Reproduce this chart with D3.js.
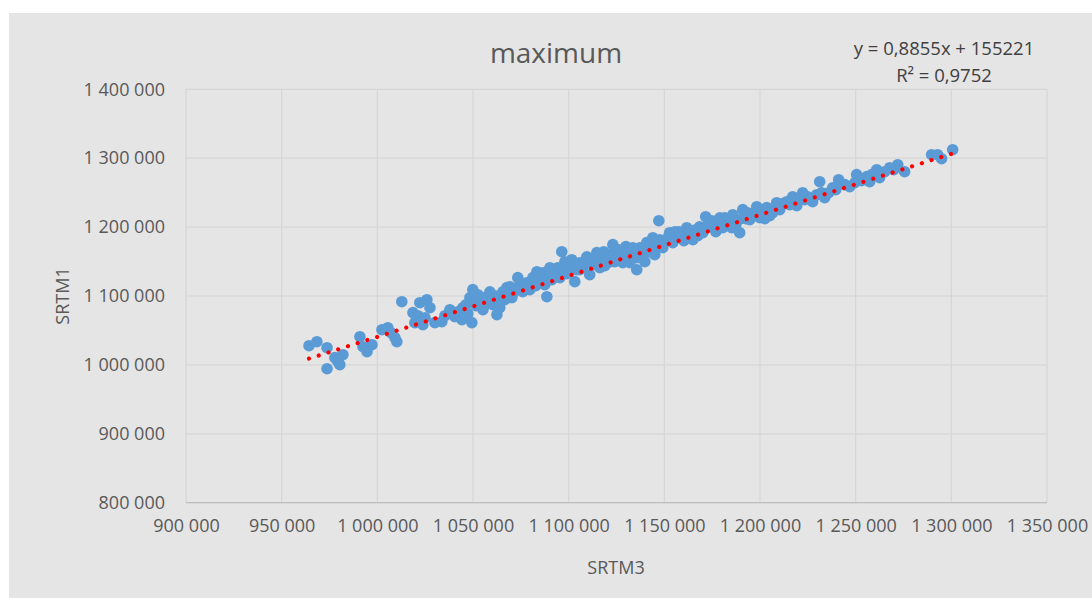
<!DOCTYPE html>
<html>
<head>
<meta charset="utf-8">
<script src="https://cdn.jsdelivr.net/npm/d3@7"></script>
<style>
  html, body { margin: 0; padding: 0; background: #ffffff; }
  svg { display: block; font-family: "Open Sans", "Noto Sans", sans-serif; }
</style>
</head>
<body>
<svg id="chart" width="1092" height="598"></svg>
<script>
// SRTM3 (x) and SRTM1 (y) maxima per sample
const srtm3 = [
  964300, 968400, 973700, 973700, 977800, 980400, 982000, 979400, 990900, 992500,
  994600, 997200, 1002400, 1005500, 1009200, 1010200, 1007100, 1012800, 1018600, 1019600,
  1022200, 1025900, 1027500, 1023800, 1030100, 1033700, 1037900, 1040500, 1044200, 1048400,
  1049400, 1024900, 1035300, 1042100, 1046300, 1021200, 1044700, 1049900, 1053600, 1057200,
  1060400, 1062500, 1065600, 1069300, 1070300, 1073400, 1076000, 1083400, 1084900, 1088600,
  1090200, 1092800, 1096400, 1100600, 1103200, 1105800, 1109500, 1111000, 1114700, 1116300,
  1119900, 1123100, 1125200, 1128300, 1133500, 1132000, 1052500, 1056200, 1058800, 1063000,
  1066600, 1068200, 1071900, 1074500, 1078100, 1079700, 1081300, 1086500, 1087500, 1091200,
  1094300, 1095400, 1098000, 1099000, 1101600, 1104300, 1107400, 1108400, 1112600, 1113700,
  1117800, 1118900, 1121500, 1124100, 1126700, 1129900, 1135600, 1055200, 1064000, 1128300,
  1132000, 1135600, 1140800, 1144000, 1147100, 1149200, 1152800, 1157000, 1161700, 1164900,
  1168500, 1171600, 1175300, 1179000, 1182600, 1185800, 1189400, 1191000, 1194600, 1198300,
  1201400, 1206600, 1208700, 1214000, 1217100, 1138200, 1142400, 1146000, 1147600, 1150800,
  1154400, 1155500, 1159100, 1160200, 1163300, 1166400, 1170100, 1173200, 1176900, 1177900,
  1180500, 1184200, 1187300, 1192500, 1196200, 1199900, 1203500, 1205100, 1210300, 1211900,
  1215500, 1139800, 1145000, 1219200, 1219700, 1222300, 1227500, 1231200, 1233800, 1238000,
  1241100, 1246900, 1250500, 1255800, 1261000, 1262500, 1267800, 1272000, 1275600, 1289700,
  1292800, 1294900, 1300700, 1224900, 1229600, 1235900, 1244300, 1253100, 1258400, 1265200,
  1269900, 1220800, 1047300, 1051500, 1054600, 1058300, 1061400, 1065100, 1067700, 1070800,
  1077100, 1080200, 1082800, 1089100, 1091700, 1096900, 1099600, 1102700, 1105800, 1110500,
  1115200, 1118400, 1122000, 1126200, 1130900, 1134600, 1137200, 1141300, 1143400, 1148700,
  1151800, 1157500, 1162200, 1167500, 1171100, 1174800, 1181600, 1185200, 1188900, 1193600,
  1197800, 1202500, 1207700, 1223400, 1232200, 1239600, 1249500, 1257300
];
const srtm1 = [
  1027900, 1033700, 1025000, 994500, 1010500, 1000300, 1014800, 1004600, 1040900, 1026400,
  1019200, 1029300, 1051100, 1054000, 1039500, 1033700, 1046700, 1091700, 1075800, 1061300,
  1090300, 1094600, 1083000, 1058400, 1061300, 1062700, 1080100, 1070000, 1065600, 1097500,
  1061300, 1068500, 1071400, 1077200, 1087400, 1071400, 1083000, 1109200, 1091700, 1099000,
  1087400, 1072900, 1106200, 1113500, 1097500, 1126600, 1106200, 1135300, 1123700, 1099000,
  1141100, 1130900, 1164300, 1141100, 1120800, 1148300, 1157000, 1130900, 1162900, 1141100,
  1149800, 1174500, 1160000, 1164300, 1170100, 1148300, 1101900, 1087400, 1106200, 1094600,
  1094600, 1104800, 1109200, 1116400, 1119300, 1109200, 1126600, 1133800, 1116400, 1123700,
  1141100, 1126600, 1149800, 1132400, 1152700, 1138200, 1141100, 1149800, 1145400, 1155600,
  1155600, 1144000, 1160000, 1149800, 1155600, 1171600, 1155600, 1080100, 1083000, 1148300,
  1167200, 1138200, 1177400, 1184600, 1209300, 1170100, 1191900, 1184600, 1199100, 1181700,
  1200600, 1215100, 1200600, 1213600, 1203500, 1218000, 1191900, 1225300, 1210700, 1229600,
  1220900, 1220900, 1235400, 1236900, 1244100, 1160000, 1164300, 1173000, 1181700, 1180300,
  1177400, 1193300, 1189000, 1180300, 1193300, 1196200, 1191900, 1204900, 1193300, 1207800,
  1199100, 1209300, 1202000, 1212200, 1219500, 1213600, 1228200, 1216600, 1225300, 1234000,
  1232500, 1149800, 1160000, 1231100, 1241200, 1249900, 1236900, 1265900, 1242700, 1257200,
  1268800, 1258600, 1276100, 1273200, 1283300, 1271700, 1286200, 1290600, 1280400, 1305100,
  1305100, 1299300, 1312300, 1244100, 1247000, 1249900, 1261600, 1267400, 1276100, 1280400,
  1283300, 1239800, 1074300, 1085900, 1097500, 1094600, 1100400, 1097500, 1112100, 1103300,
  1113500, 1117900, 1115000, 1129500, 1138200, 1135300, 1144000, 1144000, 1138200, 1152700,
  1149800, 1164300, 1149800, 1167200, 1158500, 1164300, 1170100, 1167200, 1175900, 1178800,
  1184600, 1193300, 1184600, 1187500, 1199100, 1209300, 1213600, 1199100, 1210700, 1220900,
  1216600, 1212200, 1228200, 1239800, 1249900, 1254300, 1264400, 1265900
];

// Axis ticks
const xTicks = [900000, 950000, 1000000, 1050000, 1100000, 1150000, 1200000, 1250000, 1300000, 1350000];
const yTicks = [800000, 900000, 1000000, 1100000, 1200000, 1300000, 1400000];

// Linear trend stated on the chart: y = 0,8855x + 155221, R² = 0,9752
const trendSlope = 0.8855;
const trendIntercept = 155221;
const trendR2 = 0.9752;

const chartTitle = "maximum";
const xTitle = "SRTM3";
const yTitle = "SRTM1";

const locale = d3.formatLocale({ decimal: ",", thousands: " ", grouping: [3], currency: ["", ""] });
const fmtTick = locale.format(",");

const svg = d3.select("#chart");
const W = 1092, H = 598;
const plot = { left: 186, right: 1047, top: 89.3, bottom: 502.7 };

// chart background panel
svg.append("rect")
  .attr("x", 9).attr("y", 13)
  .attr("width", W - 9).attr("height", H - 13)
  .attr("fill", "#e5e5e5");

const x = d3.scaleLinear().domain([900000, 1350000]).range([plot.left, plot.right]);
const y = d3.scaleLinear().domain([800000, 1400000]).range([plot.bottom, plot.top]);

// gridlines
const grid = svg.append("g");
grid.selectAll("line.v").data(xTicks).join("line")
  .attr("x1", d => x(d)).attr("x2", d => x(d))
  .attr("y1", plot.top).attr("y2", plot.bottom)
  .attr("stroke", "#d6d6d6").attr("stroke-width", 1.2);
grid.selectAll("line.h").data(yTicks).join("line")
  .attr("x1", plot.left).attr("x2", plot.right)
  .attr("y1", d => y(d)).attr("y2", d => y(d))
  .attr("stroke", "#d6d6d6").attr("stroke-width", 1.2);

// horizontal axis baseline
svg.append("line")
  .attr("x1", plot.left).attr("x2", plot.right)
  .attr("y1", plot.bottom).attr("y2", plot.bottom)
  .attr("stroke", "#bfbfbf").attr("stroke-width", 1.2);

// axes (labels only; lines drawn above)
const xAxis = svg.append("g")
  .attr("transform", `translate(0,${plot.bottom})`)
  .call(d3.axisBottom(x).tickValues(xTicks).tickFormat(fmtTick).tickSize(0).tickPadding(17));
const yAxis = svg.append("g")
  .attr("transform", `translate(${plot.left},0)`)
  .call(d3.axisLeft(y).tickValues(yTicks).tickFormat(fmtTick).tickSize(0).tickPadding(21));
[xAxis, yAxis].forEach(a => {
  a.select(".domain").remove();
  a.selectAll("text")
    .attr("fill", "#595959")
    .style("font-family", "'Open Sans', sans-serif")
    .style("font-size", "18px");
});

// data points
const pts = srtm3.map((v, i) => ({ x: v, y: srtm1[i] }));
svg.append("g").selectAll("circle").data(pts).join("circle")
  .attr("cx", d => x(d.x)).attr("cy", d => y(d.y))
  .attr("r", 5.8)
  .attr("fill", "#5b9bd5");

// dotted trend line over the range of the data
const xMin = d3.min(srtm3), xMax = d3.max(srtm3);
svg.append("line")
  .attr("x1", x(xMin)).attr("y1", y(trendSlope * xMin + trendIntercept))
  .attr("x2", x(xMax)).attr("y2", y(trendSlope * xMax + trendIntercept))
  .attr("stroke", "#ff0000")
  .attr("stroke-width", 4.2)
  .attr("stroke-linecap", "round")
  .attr("stroke-dasharray", "0.01 10.2");

// title
svg.append("text")
  .attr("x", 556).attr("y", 52)
  .attr("text-anchor", "middle").attr("dominant-baseline", "central")
  .attr("fill", "#595959")
  .style("font-size", "28px")
  .text(chartTitle);

// trend equation
const fmtDec = (v, n) => v.toFixed(n).replace(".", ",");
svg.append("text")
  .attr("x", 944).attr("y", 47)
  .attr("text-anchor", "middle").attr("dominant-baseline", "central")
  .attr("fill", "#404040")
  .style("font-size", "18.5px")
  .text(`y = ${fmtDec(trendSlope, 4)}x + ${trendIntercept}`);
svg.append("text")
  .attr("x", 944).attr("y", 74)
  .attr("text-anchor", "middle").attr("dominant-baseline", "central")
  .attr("fill", "#404040")
  .style("font-size", "18.5px")
  .text(`R² = ${fmtDec(trendR2, 4)}`);

// axis titles
svg.append("text")
  .attr("x", 616).attr("y", 567)
  .attr("text-anchor", "middle").attr("dominant-baseline", "central")
  .attr("fill", "#595959")
  .style("font-size", "18px")
  .text(xTitle);
svg.append("text")
  .attr("transform", "translate(62,296) rotate(-90)")
  .attr("text-anchor", "middle").attr("dominant-baseline", "central")
  .attr("fill", "#595959")
  .style("font-size", "18px")
  .text(yTitle);
</script>
</body>
</html>
